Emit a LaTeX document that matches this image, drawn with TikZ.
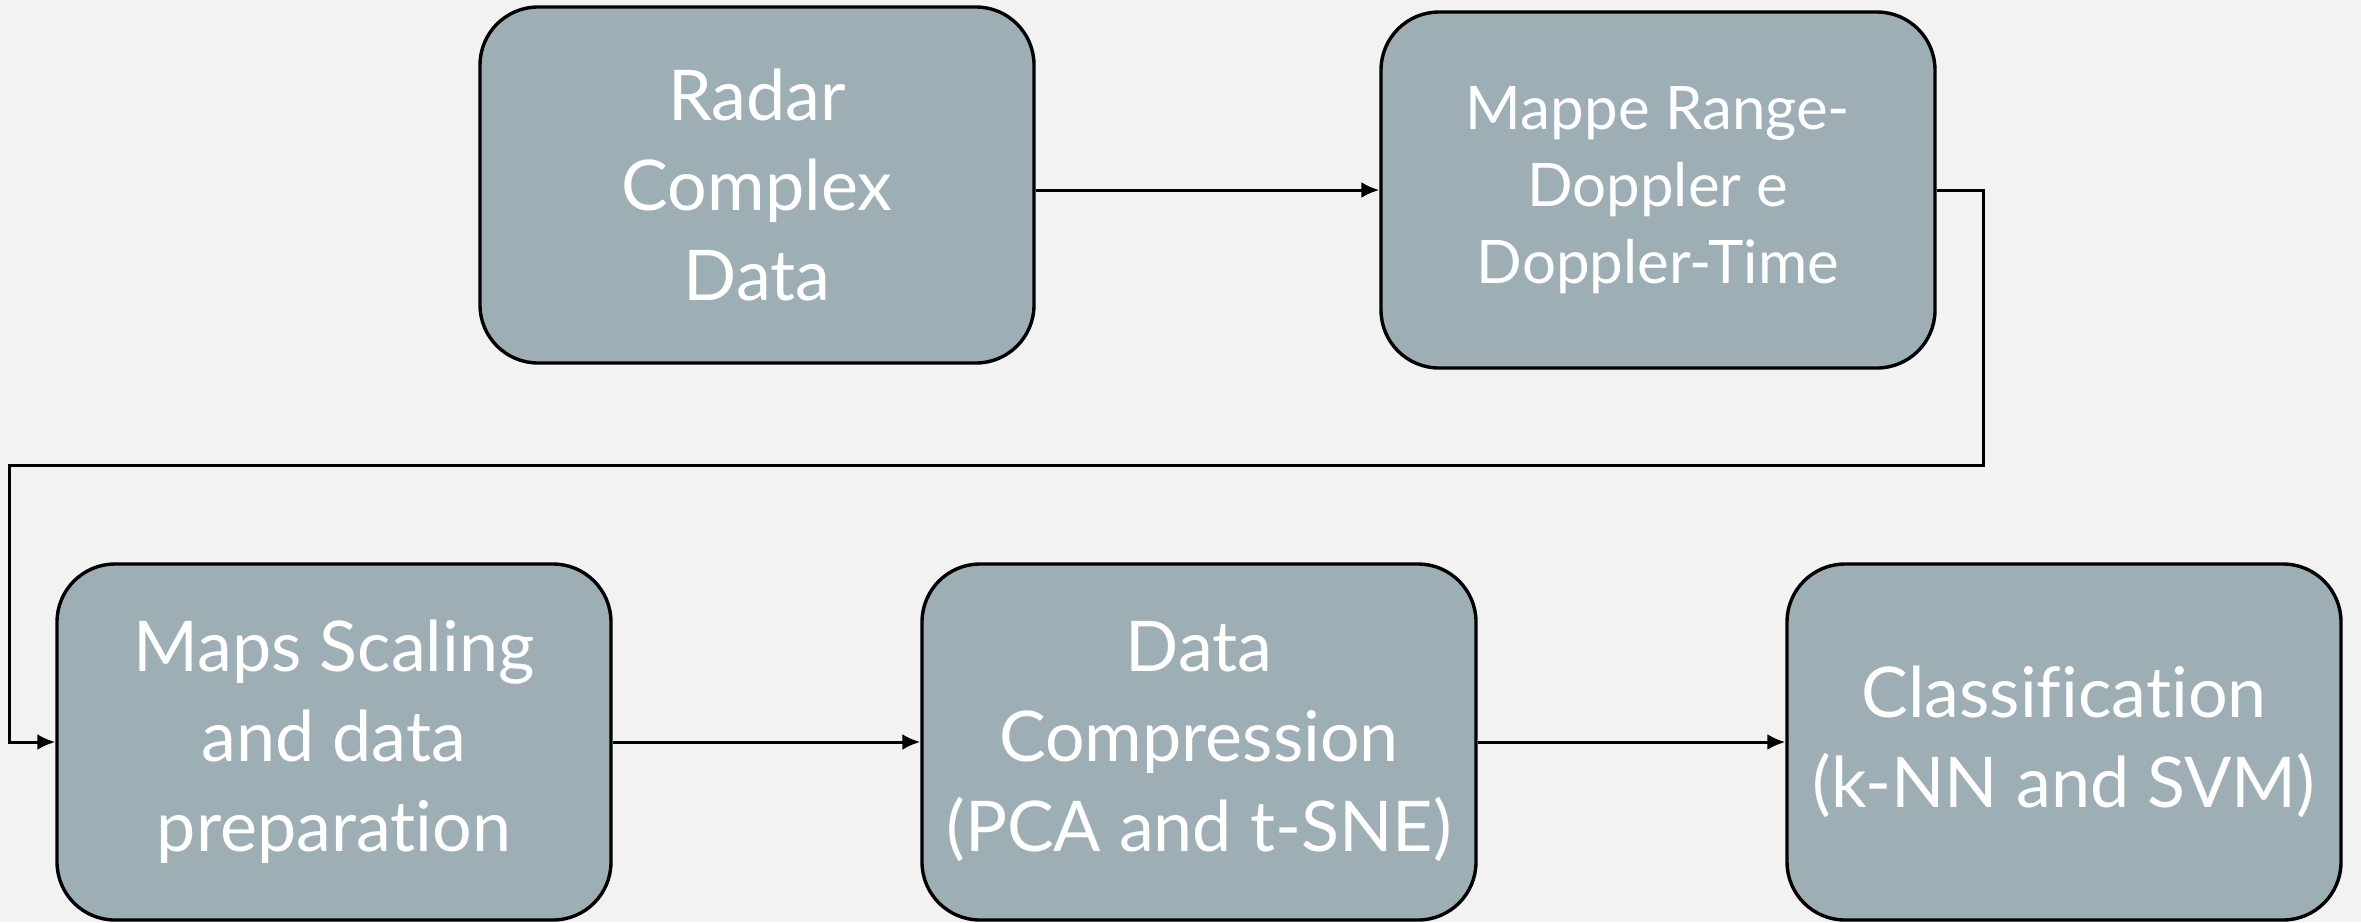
\documentclass[tikz,border=0pt]{standalone}
\usepackage{fontspec}
\setmainfont[Ligatures={NoCommon,NoRare}]{Lato}
\usetikzlibrary{arrows.meta}
\definecolor{pagebg}{RGB}{242,242,242}
\definecolor{boxfill}{RGB}{157,175,180}
\tikzset{
  stage/.style={draw=black, line width=1.7pt, fill=boxfill, rounded corners=29pt,
    minimum width=277pt, minimum height=178pt, align=center, text=white,
    inner sep=0pt, font=\fontsize{35}{45}\selectfont},
  smalltext/.style={font=\fontsize{30}{38.5}\selectfont},
  link/.style={line width=1.5pt, -{Latex[length=9pt,width=8pt]}},
}
\begin{document}
\begin{tikzpicture}[x=0.5pt,y=-0.5pt]
  \useasboundingbox[fill=pagebg] (0,0) rectangle (2361,922);
  % pipeline stages (centres in pixel units)
  \node[stage] (radar) at (757,185) {Radar\\Complex\\Data};
  \node[stage, smalltext] (maps) at (1658,190) {Mappe Range-\\Doppler e\\Doppler-Time};
  \node[stage] (scale) at (334,742) {Maps Scaling\\and data\\preparation};
  \node[stage] (comp)  at (1199,742) {Data\\Compression\\(PCA and t-SNE)};
  \node[stage] (cls)   at (2064,742) {Classification\\(k-NN and SVM)};
  % route from the second stage back down to the lower row
  \coordinate (r1) at (1983,190);
  \coordinate (r2) at (1983,465);
  \coordinate (r3) at (9,465);
  \coordinate (r4) at (9,742);
  \draw[link] (maps.west -| radar.east) -- (maps.west);
  \draw[link] (maps.east) -- (r1) -- (r2) -- (r3) -- (r4) -- (scale.west);
  \draw[link] (scale) -- (comp);
  \draw[link] (comp) -- (cls);
\end{tikzpicture}
\end{document}
